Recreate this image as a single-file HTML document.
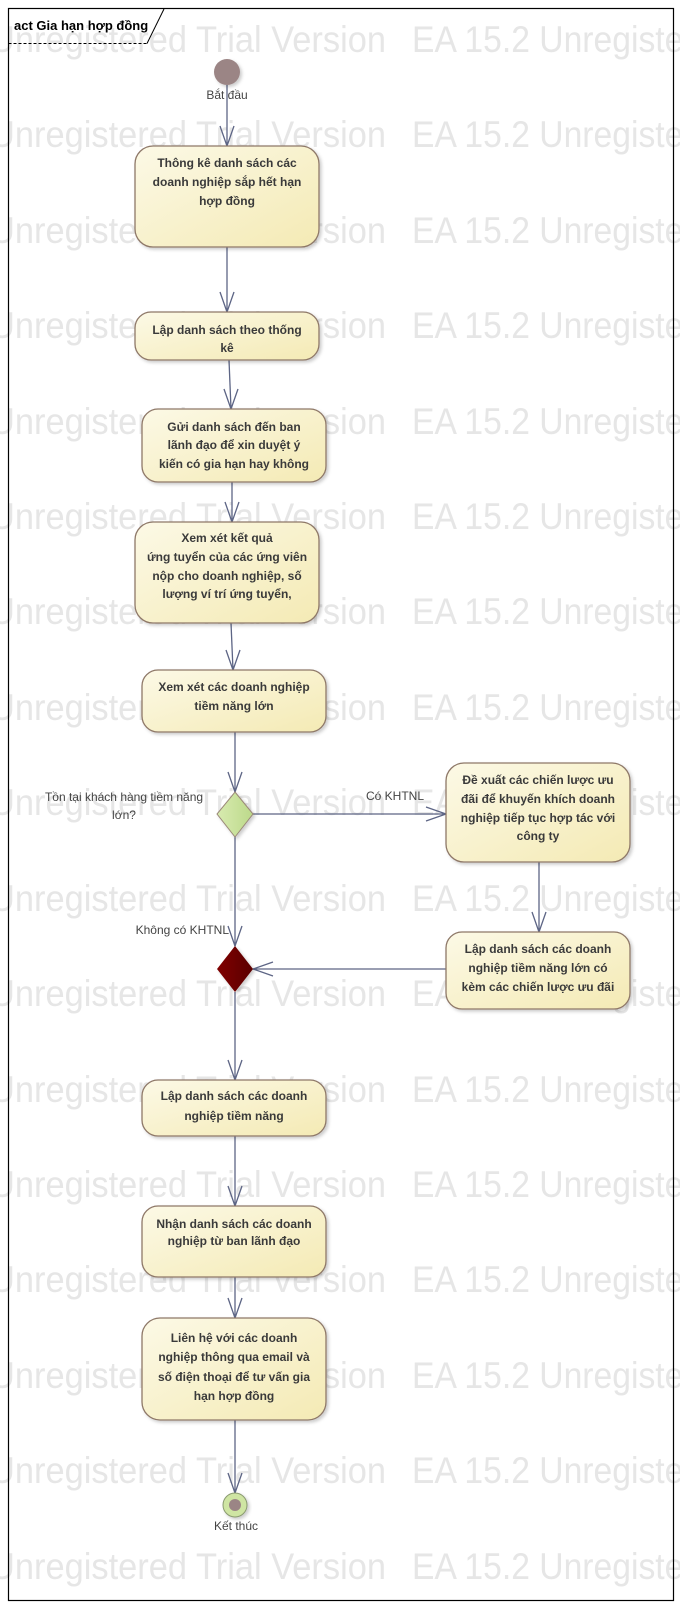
<!DOCTYPE html>
<html><head><meta charset="utf-8"><style>
html,body{margin:0;padding:0;background:#fff}
svg{display:block}
.wm{font-family:"Liberation Sans",sans-serif;font-size:37px;fill:#e6e6e6}
.t{font-family:"Liberation Sans","Noto Sans CJK SC",sans-serif;font-size:12px;font-weight:bold;fill:#3a3a3a;text-anchor:middle}
.l{font-family:"Liberation Sans","Noto Sans CJK SC",sans-serif;font-size:12px;fill:#444}
.e{stroke:#5d6585;stroke-width:1.3;fill:none}
.b{fill:url(#g);stroke:#8e7868;stroke-width:1.3;filter:url(#s)}
</style></head><body>
<svg width="680" height="1612" viewBox="0 0 680 1612" xmlns="http://www.w3.org/2000/svg">
<defs>
<linearGradient id="g" x1="0" y1="0" x2="1" y2="1"><stop offset="0" stop-color="#fcf9e6"/><stop offset="1" stop-color="#f4eab4"/></linearGradient>
<linearGradient id="gd" x1="0" y1="0" x2="1" y2="0"><stop offset="0" stop-color="#d8ebb0"/><stop offset="1" stop-color="#bcd98a"/></linearGradient>
<linearGradient id="rd" x1="0" y1="0" x2="1" y2="0"><stop offset="0" stop-color="#800000"/><stop offset="1" stop-color="#5a0000"/></linearGradient>
<filter id="s" x="-10%" y="-10%" width="130%" height="130%"><feDropShadow dx="2" dy="2" stdDeviation="1.5" flood-color="#000" flood-opacity="0.2"/></filter>
<g id="w"><text x="-10" y="0" textLength="396" lengthAdjust="spacingAndGlyphs">Unregistered Trial Version</text><text x="412" y="0" textLength="320" lengthAdjust="spacingAndGlyphs">EA 15.2 Unregistered</text></g>
</defs>
<g class="wm">
<use href="#w" y="52"/><use href="#w" y="147"/><use href="#w" y="243"/><use href="#w" y="338"/>
<use href="#w" y="434"/><use href="#w" y="529"/><use href="#w" y="624"/><use href="#w" y="720"/>
<use href="#w" y="815"/><use href="#w" y="911"/><use href="#w" y="1006"/><use href="#w" y="1102"/>
<use href="#w" y="1197"/><use href="#w" y="1292"/><use href="#w" y="1388"/><use href="#w" y="1483"/>
<use href="#w" y="1579"/>
</g>
<rect x="8.5" y="8.5" width="665" height="1592" fill="none" stroke="#000" stroke-width="1.2"/>
<path d="M8.5 43.5 H147" fill="none" stroke="#000" stroke-width="1" stroke-dasharray="3,2"/>
<path d="M147 43.5 L164 9" fill="none" stroke="#000" stroke-width="1"/>
<text x="14" y="30" style="font-family:'Liberation Sans',sans-serif;font-size:13px;font-weight:bold;fill:#000">act Gia hạn hợp đồng</text>

<g class="e">
<path d="M227 85 V146"/><path d="M220 126 L227 146 L234 126"/>
<path d="M227 247 V312"/><path d="M220 292 L227 312 L234 292"/>
<path d="M229 360 L231 409"/><path d="M224 389 L231 409 L238 389"/>
<path d="M232 482 V522"/><path d="M225 502 L232 522 L239 502"/>
<path d="M231 623 L233 670"/><path d="M226 650 L233 670 L240 650"/>
<path d="M235 732 V792"/><path d="M228 772 L235 792 L242 772"/>
<path d="M253 814 H446"/><path d="M426 807 L446 814 L426 821"/>
<path d="M539 862 V932"/><path d="M532 912 L539 932 L546 912"/>
<path d="M446 969 H253"/><path d="M273 962 L253 969 L273 976"/>
<path d="M235 836 V946"/><path d="M228 926 L235 946 L242 926"/>
<path d="M235 992 V1080"/><path d="M228 1060 L235 1080 L242 1060"/>
<path d="M235 1136 V1206"/><path d="M228 1186 L235 1206 L242 1186"/>
<path d="M235 1277 V1318"/><path d="M228 1298 L235 1318 L242 1298"/>
<path d="M235 1420 V1493"/><path d="M228 1473 L235 1493 L242 1473"/>
</g>

<circle cx="227" cy="72" r="13" fill="#9b8585" filter="url(#s)"/>
<text class="l" x="227" y="99" text-anchor="middle">Bắt đầu</text>

<rect class="b" x="135" y="146" width="184" height="101" rx="18"/>
<text class="t" x="227" y="167">Thông kê danh sách các</text>
<text class="t" x="227" y="186">doanh nghiệp sắp hết hạn</text>
<text class="t" x="227" y="205">hợp đồng</text>

<rect class="b" x="135" y="312" width="184" height="48" rx="16"/>
<text class="t" x="227" y="334">Lập danh sách theo thống</text>
<text class="t" x="227" y="352">kê</text>

<rect class="b" x="142" y="409" width="184" height="73" rx="16"/>
<text class="t" x="234" y="431">Gửi danh sách đến ban</text>
<text class="t" x="234" y="449">lãnh đạo để xin duyệt ý</text>
<text class="t" x="234" y="468">kiến có gia hạn hay không</text>

<rect class="b" x="135" y="522" width="184" height="101" rx="18"/>
<text class="t" x="227" y="542">Xem xét kết quả</text>
<text class="t" x="227" y="561">ứng tuyển của các ứng viên</text>
<text class="t" x="227" y="580">nộp cho doanh nghiệp, số</text>
<text class="t" x="227" y="598">lượng ví trí ứng tuyển,</text>

<rect class="b" x="142" y="670" width="184" height="62" rx="16"/>
<text class="t" x="234" y="691">Xem xét các doanh nghiệp</text>
<text class="t" x="234" y="710">tiềm năng lớn</text>

<polygon points="235,792 253,814 235,837 217,814" fill="url(#gd)" stroke="#9a8878" stroke-width="1" filter="url(#s)"/>
<text class="l" x="124" y="801" text-anchor="middle">Tồn tại khách hàng tiềm năng</text>
<text class="l" x="124" y="819" text-anchor="middle">lớn?</text>
<text class="l" x="366" y="800">Có KHTNL</text>

<rect class="b" x="446" y="763" width="184" height="99" rx="18"/>
<text class="t" x="538" y="784">Đề xuất các chiến lược ưu</text>
<text class="t" x="538" y="803">đãi để khuyến khích doanh</text>
<text class="t" x="538" y="822">nghiệp tiếp tục hợp tác với</text>
<text class="t" x="538" y="840">công ty</text>

<rect class="b" x="446" y="932" width="184" height="77" rx="16"/>
<text class="t" x="538" y="953">Lập danh sách các doanh</text>
<text class="t" x="538" y="972">nghiệp tiềm năng lớn có</text>
<text class="t" x="538" y="991">kèm các chiến lược ưu đãi</text>

<text class="l" x="229" y="934" text-anchor="end">Không có KHTNL</text>
<polygon points="235,946 253,969 235,992 217,969" fill="url(#rd)" filter="url(#s)"/>

<rect class="b" x="142" y="1080" width="184" height="56" rx="16"/>
<text class="t" x="234" y="1100">Lập danh sách các doanh</text>
<text class="t" x="234" y="1120">nghiệp tiềm năng</text>

<rect class="b" x="142" y="1206" width="184" height="71" rx="16"/>
<text class="t" x="234" y="1228">Nhận danh sách các doanh</text>
<text class="t" x="234" y="1245">nghiệp từ ban lãnh đạo</text>

<rect class="b" x="142" y="1318" width="184" height="102" rx="18"/>
<text class="t" x="234" y="1342">Liên hệ với các doanh</text>
<text class="t" x="234" y="1361">nghiệp thông qua email và</text>
<text class="t" x="234" y="1381">số điện thoại để tư vấn gia</text>
<text class="t" x="234" y="1400">hạn hợp đồng</text>

<circle cx="235" cy="1505" r="12" fill="#cfe5a3" stroke="#8a9a70" stroke-width="1" filter="url(#s)"/>
<circle cx="235" cy="1505" r="6" fill="#9b8585"/>
<text class="l" x="236" y="1530" text-anchor="middle">Kết thúc</text>
</svg>
</body></html>
